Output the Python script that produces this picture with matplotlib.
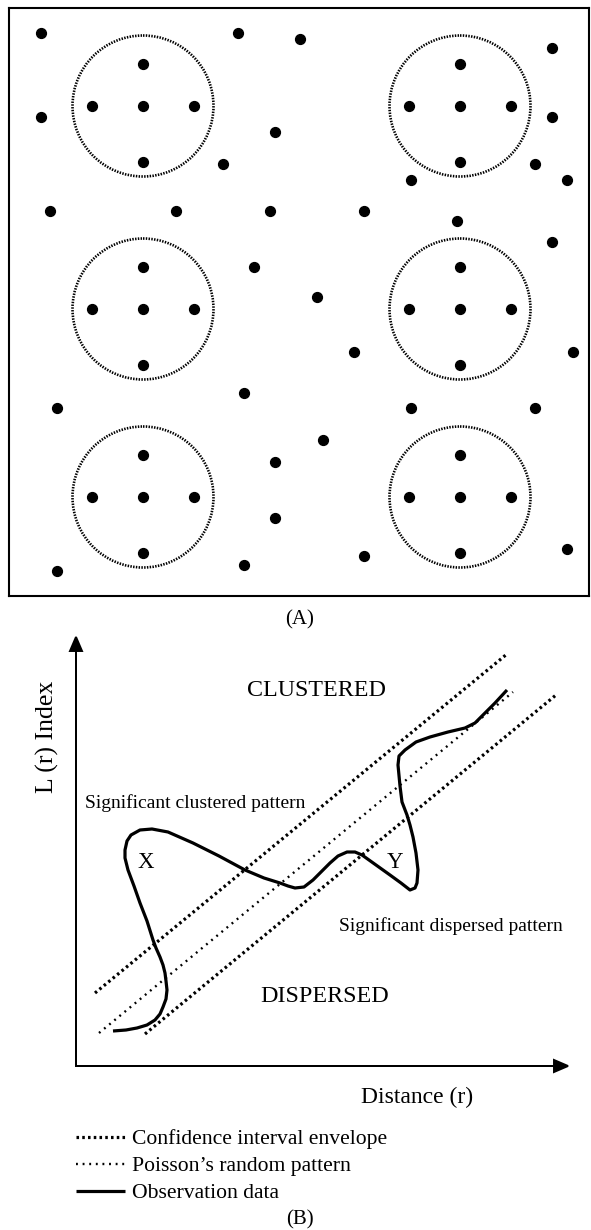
import numpy as np
import matplotlib
matplotlib.use('agg')
import matplotlib.pyplot as plt
from matplotlib.patches import Circle

plt.rcParams['font.family'] = ['Liberation Serif', 'DejaVu Serif']

# ---- panel A: point pattern (box units, origin top-left) ----
cluster_x = [134, 451]
cluster_y = [98, 301, 489]
# members of each cluster: top, bottom, left, centre, right
member_dx = [0, 0, -51, 0, 51]
member_dy = [-42, 56, 0, 0, 0]
circle_r = 70.5

scatter_x = [32, 229, 291, 32, 266, 214, 41, 167, 261, 245,
             543, 543, 526, 402, 558, 355, 448, 543, 308,
             235, 48, 266, 266, 235, 48,
             345, 564, 402, 526, 314, 355, 558]
scatter_y = [25, 25, 31, 109, 124, 156, 203, 203, 203, 259,
             40, 109, 156, 172, 172, 203, 213, 234, 289,
             385, 400, 454, 510, 557, 563,
             344, 344, 400, 400, 432, 548, 541]

# ---- panel B: L(r) diagram (origin at axis corner) ----
env_upper = ([19, 431], [73, 412])
poisson = ([23, 437], [33, 374])
env_lower = ([69, 480], [32, 371])
obs_x = [37, 50, 61, 71, 79, 84, 87, 90, 91, 90, 89, 87, 84, 80, 77, 71, 64, 58, 52, 49,
         49, 51, 55, 64, 76, 92, 117, 143, 169, 188, 204, 212, 219, 228, 237, 246, 254, 262,
         271, 279, 286, 300, 314, 325, 334, 339, 341, 342, 340, 337, 334, 331, 326, 324, 322,
         323, 329, 340, 354, 372, 389, 399, 407, 419, 431]
obs_y = [35, 36, 38, 41, 46, 52, 59, 67, 76, 85, 93, 101, 109, 118, 126, 145, 163, 180, 196, 208,
         216, 225, 231, 236, 237, 234, 223, 210, 196, 188, 183, 180, 178, 179, 186, 195, 203, 210,
         214, 214, 211, 201, 191, 183, 176, 178, 183, 196, 213, 229, 241, 251, 264, 280, 301,
         310, 316, 324, 329, 334, 338, 343, 351, 363, 376]
x_axis_len = 492
y_axis_len = 429

fig = plt.figure(figsize=(5.91, 12.30), dpi=100)

# panel A
ax_a = fig.add_axes([9 / 591, 1 - 596 / 1230, 580 / 591, 588 / 1230])
ax_a.set_xlim(0, 580)
ax_a.set_ylim(588, 0)
ax_a.set_xticks([])
ax_a.set_yticks([])
for sp in ax_a.spines.values():
    sp.set_linewidth(1.5)

for cx in cluster_x:
    for cy in cluster_y:
        ax_a.add_patch(Circle((cx, cy), circle_r, fill=False, color='black',
                              lw=1.9, linestyle=(0, (0.55, 0.5))))
        ax_a.scatter([cx + dx for dx in member_dx], [cy + dy for dy in member_dy],
                     s=50, color='black', zorder=3)
ax_a.scatter(scatter_x, scatter_y, s=50, color='black', zorder=3)

fig.text(300 / 591, 1 - 620 / 1230, '(A)', ha='center', va='center', fontsize=15)

# panel B
ax_b = fig.add_axes([0, 0, 1, 630 / 1230])
ax_b.set_xlim(-76, 515)
ax_b.set_ylim(-164, 466)
ax_b.axis('off')

ax_b.arrow(0, 0, 0, y_axis_len, head_width=12, head_length=14, length_includes_head=True,
           lw=1.4, fc='black', ec='black')
ax_b.arrow(0, 0, x_axis_len, 0, head_width=12, head_length=14, length_includes_head=True,
           lw=1.4, fc='black', ec='black')

ax_b.plot(*env_upper, color='black', lw=2.3, linestyle=(0, (0.8, 1.0)),
          label='Confidence interval envelope')
ax_b.plot(*poisson, color='black', lw=1.7, linestyle=(0, (0.8, 2.0)),
          label='Poisson\u2019s random pattern')
ax_b.plot(*env_lower, color='black', lw=2.3, linestyle=(0, (0.8, 1.0)))
ax_b.plot(obs_x, obs_y, color='black', lw=2.3, solid_joinstyle='round',
          solid_capstyle='butt', label='Observation data')

ax_b.text(241, 376, 'CLUSTERED', ha='center', va='center', fontsize=17.3)
ax_b.text(249, 69, 'DISPERSED', ha='center', va='center', fontsize=17.3)
ax_b.text(9, 263, 'Significant clustered pattern', ha='left', va='center', fontsize=14)
ax_b.text(263, 140, 'Significant dispersed pattern', ha='left', va='center', fontsize=14)
ax_b.text(70, 203, 'X', ha='center', va='center', fontsize=16.5)
ax_b.text(319, 204, 'Y', ha='center', va='center', fontsize=16.5)
ax_b.text(-29, 329, 'L (r) Index', ha='center', va='center', rotation=90, fontsize=18.5)
ax_b.text(341, -31, 'Distance (r)', ha='center', va='center', fontsize=17)

ax_b.legend(loc='upper left', bbox_to_anchor=(0, -63), bbox_transform=ax_b.transData,
            frameon=False, fontsize=15.6, handlelength=2.25, handletextpad=0.35,
            borderpad=0, borderaxespad=0, labelspacing=0.32)

fig.text(300 / 591, 1 - 1220 / 1230, '(B)', ha='center', va='center', fontsize=15)

fig.savefig('out.png', dpi=100)
